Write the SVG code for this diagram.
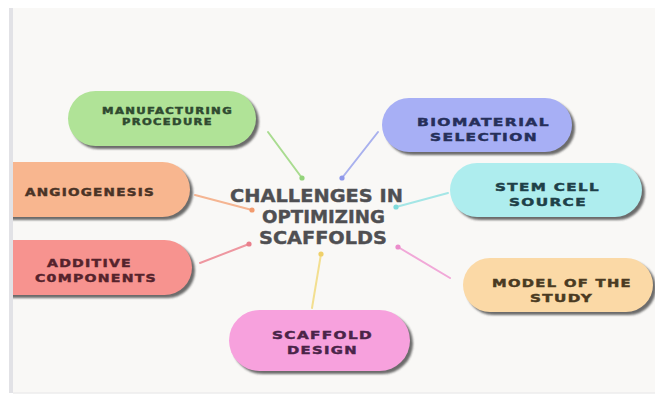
<svg xmlns="http://www.w3.org/2000/svg" width="655" height="401" viewBox="0 0 655 401">
  <defs>
    <style>
      .lbl { font-family: "DejaVu Sans", "Liberation Sans", sans-serif; font-weight: bold; letter-spacing: 1px; stroke-width: 0.45px; }
      .title { font-family: "DejaVu Sans", "Liberation Sans", sans-serif; font-weight: bold; font-size: 18.5px; fill: #4f4f52; stroke: #4f4f52; stroke-width: 0.4px; }
      .shadow { fill: #3c3c3c; opacity: 0.75; filter: url(#soft); }
      .link { stroke-width: 2; fill: none; stroke-linecap: round; }
    </style>
    <filter id="soft" x="-10%" y="-20%" width="120%" height="140%">
      <feGaussianBlur stdDeviation="1.2"/>
    </filter>
    <clipPath id="panel">
      <rect x="13" y="8" width="642" height="384"/>
    </clipPath>
  </defs>

  <!-- page and panel -->
  <rect width="655" height="401" fill="#ffffff"/>
  <rect x="10" y="8" width="645" height="385" fill="#f9f8f6"/>
  <rect x="9" y="8" width="4" height="385" fill="#e2e2e6"/>
  <line x1="13" y1="393" x2="655" y2="393" stroke="#ececec" stroke-width="1.5"/>

  <!-- connectors -->
  <g id="connectors">
    <line class="link" x1="268" y1="132" x2="302" y2="178" stroke="#a9dc90"/>
    <circle cx="302" cy="178" r="2.6" fill="#93d37a"/>
    <line class="link" x1="378" y1="132" x2="342" y2="178" stroke="#a9b1ee"/>
    <circle cx="342" cy="178" r="2.6" fill="#8f98ea"/>
    <line class="link" x1="448" y1="193" x2="396" y2="207" stroke="#a4e6e6"/>
    <circle cx="396" cy="207" r="2.6" fill="#7fdadb"/>
    <line class="link" x1="195" y1="195" x2="252" y2="210" stroke="#f5b592"/>
    <circle cx="252" cy="210" r="2.6" fill="#f29b6e"/>
    <line class="link" x1="200" y1="263" x2="249" y2="244" stroke="#ee97a0"/>
    <circle cx="249" cy="244" r="2.6" fill="#e97f8b"/>
    <line class="link" x1="450" y1="278" x2="398" y2="247" stroke="#f1a8d8"/>
    <circle cx="398" cy="247" r="2.6" fill="#eb8ccb"/>
    <line class="link" x1="312" y1="308" x2="321" y2="254" stroke="#f3df90"/>
    <circle cx="321" cy="254" r="2.6" fill="#efd06a"/>
  </g>

  <!-- central topic -->
  <g id="center">
    <text class="title" x="230" y="201.7" textLength="173" lengthAdjust="spacingAndGlyphs">CHALLENGES IN</text>
    <text class="title" x="262" y="223.3" textLength="123" lengthAdjust="spacingAndGlyphs">OPTIMIZING</text>
    <text class="title" x="259" y="244" textLength="128" lengthAdjust="spacingAndGlyphs">SCAFFOLDS</text>
  </g>

  <g clip-path="url(#panel)">
    <g id="manufacturing">
      <rect class="shadow" x="71" y="94" width="188" height="55" rx="27.5"/>
      <rect x="68" y="91" width="188" height="55" rx="27.5" fill="#b0e397"/>
      <text class="lbl" x="102" y="114.3" font-size="8.5" fill="#2f4a30" stroke="#2f4a30" textLength="131" lengthAdjust="spacingAndGlyphs">MANUFACTURING</text>
      <text class="lbl" x="122" y="125.3" font-size="8.5" fill="#2f4a30" stroke="#2f4a30" textLength="91" lengthAdjust="spacingAndGlyphs">PROCEDURE</text>
    </g>

    <g id="angiogenesis">
      <rect class="shadow" x="-17" y="165" width="210" height="55" rx="27.5"/>
      <rect x="-20" y="162" width="210" height="55" rx="27.5" fill="#f8b68f"/>
      <text class="lbl" x="25" y="195.7" font-size="11" fill="#4a3326" stroke="#4a3326" textLength="130" lengthAdjust="spacingAndGlyphs">ANGIOGENESIS</text>
    </g>

    <g id="additive">
      <rect class="shadow" x="-17" y="243" width="212" height="55" rx="27.5"/>
      <rect x="-20" y="240" width="212" height="55" rx="27.5" fill="#f7938f"/>
      <text class="lbl" x="47" y="266.7" font-size="11" fill="#55232c" stroke="#55232c" textLength="85" lengthAdjust="spacingAndGlyphs">ADDITIVE</text>
      <text class="lbl" x="35" y="281.7" font-size="11" fill="#55232c" stroke="#55232c" textLength="122" lengthAdjust="spacingAndGlyphs">C0MPONENTS</text>
    </g>

    <g id="biomaterial">
      <rect class="shadow" x="385" y="101" width="190" height="54" rx="27"/>
      <rect x="382" y="98" width="190" height="54" rx="27" fill="#a7aff5"/>
      <text class="lbl" x="417" y="125.7" font-size="11" fill="#262f5a" stroke="#262f5a" textLength="133" lengthAdjust="spacingAndGlyphs">BIOMATERIAL</text>
      <text class="lbl" x="430" y="141" font-size="11" fill="#262f5a" stroke="#262f5a" textLength="108" lengthAdjust="spacingAndGlyphs">SELECTION</text>
    </g>

    <g id="stem-cell">
      <rect class="shadow" x="453" y="166" width="192" height="54" rx="27"/>
      <rect x="450" y="163" width="192" height="54" rx="27" fill="#aeedee"/>
      <text class="lbl" x="495" y="190.7" font-size="11" fill="#1e4048" stroke="#1e4048" textLength="105" lengthAdjust="spacingAndGlyphs">STEM CELL</text>
      <text class="lbl" x="509" y="205.7" font-size="11" fill="#1e4048" stroke="#1e4048" textLength="78" lengthAdjust="spacingAndGlyphs">SOURCE</text>
    </g>

    <g id="model">
      <rect class="shadow" x="466" y="261" width="190" height="54" rx="27"/>
      <rect x="463" y="258" width="190" height="54" rx="27" fill="#fbd9a6"/>
      <text class="lbl" x="492" y="286.7" font-size="11" fill="#4a3a22" stroke="#4a3a22" textLength="140" lengthAdjust="spacingAndGlyphs">MODEL OF THE</text>
      <text class="lbl" x="530" y="302.3" font-size="11" fill="#4a3a22" stroke="#4a3a22" textLength="63" lengthAdjust="spacingAndGlyphs">STUDY</text>
    </g>

    <g id="scaffold-design">
      <rect class="shadow" x="232" y="313" width="181" height="61" rx="30.5"/>
      <rect x="229" y="310" width="181" height="61" rx="30.5" fill="#f7a1dd"/>
      <text class="lbl" x="272" y="339.3" font-size="11" fill="#4a2448" stroke="#4a2448" textLength="101" lengthAdjust="spacingAndGlyphs">SCAFFOLD</text>
      <text class="lbl" x="287" y="354" font-size="11" fill="#4a2448" stroke="#4a2448" textLength="71" lengthAdjust="spacingAndGlyphs">DESIGN</text>
    </g>
  </g>
</svg>
